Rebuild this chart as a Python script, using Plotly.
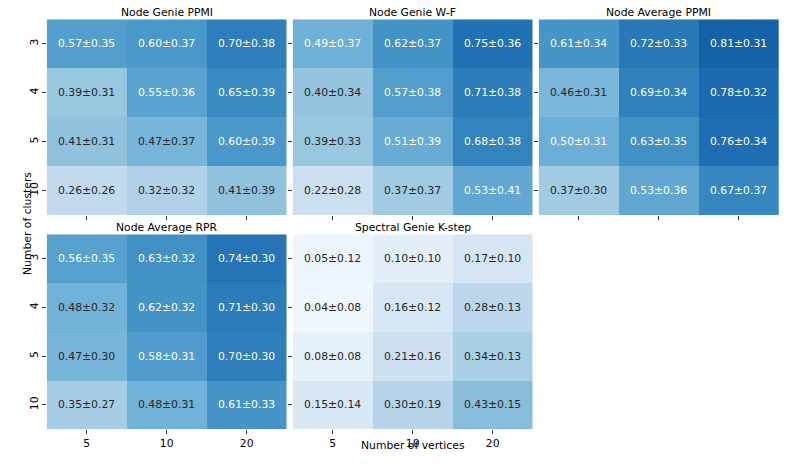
import plotly.graph_objects as go

W, H = 789, 473

vertices = ["5", "10", "20"]
clusters = ["3", "4", "5", "10"]

titles = ["Node Genie PPMI", "Node Genie W-F", "Node Average PPMI",
          "Node Average RPR", "Spectral Genie K-step"]

genie_ppmi_mean = [[0.57, 0.60, 0.70], [0.39, 0.55, 0.65], [0.41, 0.47, 0.60], [0.26, 0.32, 0.41]]
genie_ppmi_std = [[0.35, 0.37, 0.38], [0.31, 0.36, 0.39], [0.31, 0.37, 0.39], [0.26, 0.32, 0.39]]
genie_wf_mean = [[0.49, 0.62, 0.75], [0.40, 0.57, 0.71], [0.39, 0.51, 0.68], [0.22, 0.37, 0.53]]
genie_wf_std = [[0.37, 0.37, 0.36], [0.34, 0.38, 0.38], [0.33, 0.39, 0.38], [0.28, 0.37, 0.41]]
avg_ppmi_mean = [[0.61, 0.72, 0.81], [0.46, 0.69, 0.78], [0.50, 0.63, 0.76], [0.37, 0.53, 0.67]]
avg_ppmi_std = [[0.34, 0.33, 0.31], [0.31, 0.34, 0.32], [0.31, 0.35, 0.34], [0.30, 0.36, 0.37]]
avg_rpr_mean = [[0.56, 0.63, 0.74], [0.48, 0.62, 0.71], [0.47, 0.58, 0.70], [0.35, 0.48, 0.61]]
avg_rpr_std = [[0.35, 0.32, 0.30], [0.32, 0.32, 0.30], [0.30, 0.31, 0.30], [0.27, 0.31, 0.33]]
spectral_mean = [[0.05, 0.10, 0.17], [0.04, 0.16, 0.28], [0.08, 0.21, 0.34], [0.15, 0.30, 0.43]]
spectral_std = [[0.12, 0.10, 0.10], [0.08, 0.12, 0.13], [0.08, 0.16, 0.13], [0.14, 0.19, 0.15]]

means = [genie_ppmi_mean, genie_wf_mean, avg_ppmi_mean, avg_rpr_mean, spectral_mean]
stds = [genie_ppmi_std, genie_wf_std, avg_ppmi_std, avg_rpr_std, spectral_std]

blues = ["#f7fbff", "#deebf7", "#c6dbef", "#9ecae1", "#6baed6",
         "#4292c6", "#2171b5", "#08519c", "#08306b"]
colorscale = [[i / 8, c] for i, c in enumerate(blues)]

FONT = "DejaVu Sans"
FS = 10.8

# panel pixel boxes: (left, right, top, bottom)
cols_px = [(46.7, 286.7), (292.7, 532.7), (538.7, 779.0)]
rows_px = [(19.3, 215.0), (234.3, 429.3)]
positions = [(0, 0), (0, 1), (0, 2), (1, 0), (1, 1)]

xi = list(range(len(vertices)))
yi = list(range(len(clusters)))

fig = go.Figure()
annotations = []

for k, (r, c) in enumerate(positions):
    idx = "" if k == 0 else str(k + 1)
    xa, ya = "x" + idx, "y" + idx
    L, R = cols_px[c]
    T, B = rows_px[r]
    z = means[k]
    fig.add_trace(go.Heatmap(
        z=z, x=xi, y=yi, colorscale=colorscale, zmin=0, zmax=1,
        showscale=False, xaxis=xa, yaxis=ya, xgap=0, ygap=0,
    ))
    for i in yi:
        for j in xi:
            m, s = z[i][j], stds[k][i][j]
            color = "white" if m > 0.485 else "#262626"
            annotations.append(dict(
                x=j, y=i, xref=xa, yref=ya, text=f"{m:.2f}±{s:.2f}",
                showarrow=False, font=dict(family=FONT, size=FS, color=color)))
    show_x = (r == 1)
    show_y = (c == 0)
    fig.layout["xaxis" + idx] = dict(
        domain=[L / W, R / W], anchor=ya, range=[-0.5, len(xi) - 0.5],
        tickmode="array", tickvals=xi, ticktext=vertices,
        showgrid=False, zeroline=False, showline=False,
        ticks="outside", ticklen=3.5, tickwidth=0.8, tickcolor="#333",
        showticklabels=show_x, tickfont=dict(family=FONT, size=FS, color="black"),
        fixedrange=True)
    fig.layout["yaxis" + idx] = dict(
        domain=[1 - B / H, 1 - T / H], anchor=xa, range=[len(yi) - 0.5, -0.5],
        tickmode="array", tickvals=yi, ticktext=clusters,
        showgrid=False, zeroline=False, showline=False,
        ticks="outside", ticklen=3.5, tickwidth=0.8, tickcolor="#333",
        showticklabels=show_y, tickangle=-90,
        tickfont=dict(family=FONT, size=FS, color="black"), fixedrange=True)
    annotations.append(dict(
        x=(L + R) / 2 / W, y=1 - (T - 7) / H, xref="paper", yref="paper",
        text=titles[k], showarrow=False, xanchor="center", yanchor="middle",
        font=dict(family=FONT, size=FS, color="black")))

annotations.append(dict(
    x=413 / W, y=1 - 445.5 / H, xref="paper", yref="paper",
    text="Number of vertices", showarrow=False, xanchor="center", yanchor="middle",
    font=dict(family=FONT, size=FS, color="black")))
annotations.append(dict(
    x=27 / W, y=1 - 224 / H, xref="paper", yref="paper",
    text="Number of clusters", showarrow=False, xanchor="center", yanchor="middle",
    textangle=-90, font=dict(family=FONT, size=FS, color="black")))

fig.update_layout(
    width=W, height=H, margin=dict(l=0, r=0, t=0, b=0),
    paper_bgcolor="white", plot_bgcolor="white",
    annotations=annotations, showlegend=False,
)

fig.write_html("out.html", config={"displayModeBar": False},
               post_script="document.body.style.margin='0px';document.body.style.overflow='hidden';")
